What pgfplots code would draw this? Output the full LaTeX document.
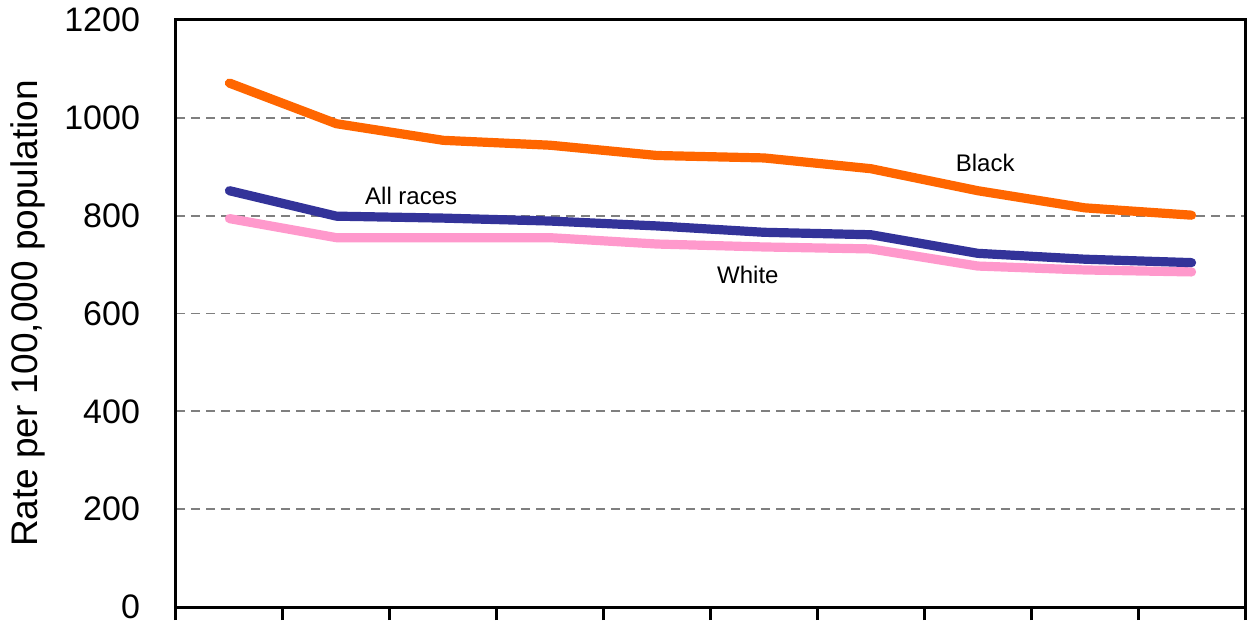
\documentclass[border=0pt]{standalone}
\usepackage{pgfplots}
\pgfplotsset{compat=1.18}
\usepackage{fontspec}
\setmainfont{Liberation Sans}
\definecolor{cBlack}{HTML}{FF6600}
\definecolor{cAll}{HTML}{333399}
\definecolor{cWhite}{HTML}{FF99CC}
\definecolor{cGrid}{HTML}{7F7F7F}
\begin{document}
\begin{tikzpicture}
\begin{axis}[
  name=ax,
  scale only axis,
  width=534.5pt, height=293.5pt,
  xmin=-0.5, xmax=9.5,
  ymin=0, ymax=1200,
  xtick={-0.5,0.5,...,9.5},
  xticklabels={},
  xtick pos=bottom,
  ytick={0,200,...,1200},
  /pgf/number format/assume math mode=true,
  /pgf/number format/1000 sep={},
  tick label style={font=\fontsize{17}{20}\selectfont},
  yticklabel style={xshift=-8pt},
  ytick style={draw=none},
  xtick style={black, line width=1.5pt},
  tick align=outside,
  major tick length=6.5pt,
  ymajorgrids,
  grid style={cGrid, line width=0.9pt, dash pattern=on 4.5pt off 3pt},
  axis line style={black, line width=1.5pt},
  every axis y label/.style={at={(axis description cs:-0.1385,0.5)}, rotate=90, anchor=center},
  ylabel={\fontsize{18.5}{22}\selectfont Rate per 100,000 population},
  clip=false,
]
\addplot[cBlack, line width=4.6pt, line cap=round, line join=round] coordinates {
(0,1071) (1,988) (2,954) (3,944) (4,923) (5,918) (6,896) (7,851) (8,816) (9,801)};
\addplot[cWhite, line width=4.6pt, line cap=round, line join=round] coordinates {
(0,794) (1,755) (2,755) (3,755) (4,742) (5,736) (6,732) (7,697) (8,689) (9,685)};
\addplot[cAll, line width=4.6pt, line cap=round, line join=round] coordinates {
(0,851) (1,799) (2,795) (3,789) (4,779) (5,766) (6,761) (7,723) (8,711) (9,704)};
\node[font=\fontsize{12}{14}\selectfont] at (axis cs:1.7,841) {All races};
\node[font=\fontsize{12}{14}\selectfont] at (axis cs:7.07,908) {Black};
\node[font=\fontsize{12}{14}\selectfont] at (axis cs:4.85,678) {White};
\end{axis}
\pgfresetboundingbox
\path ([shift={(-88pt,-7pt)}]ax.south west) rectangle ([shift={(1pt,10pt)}]ax.north east);
\end{tikzpicture}
\end{document}
